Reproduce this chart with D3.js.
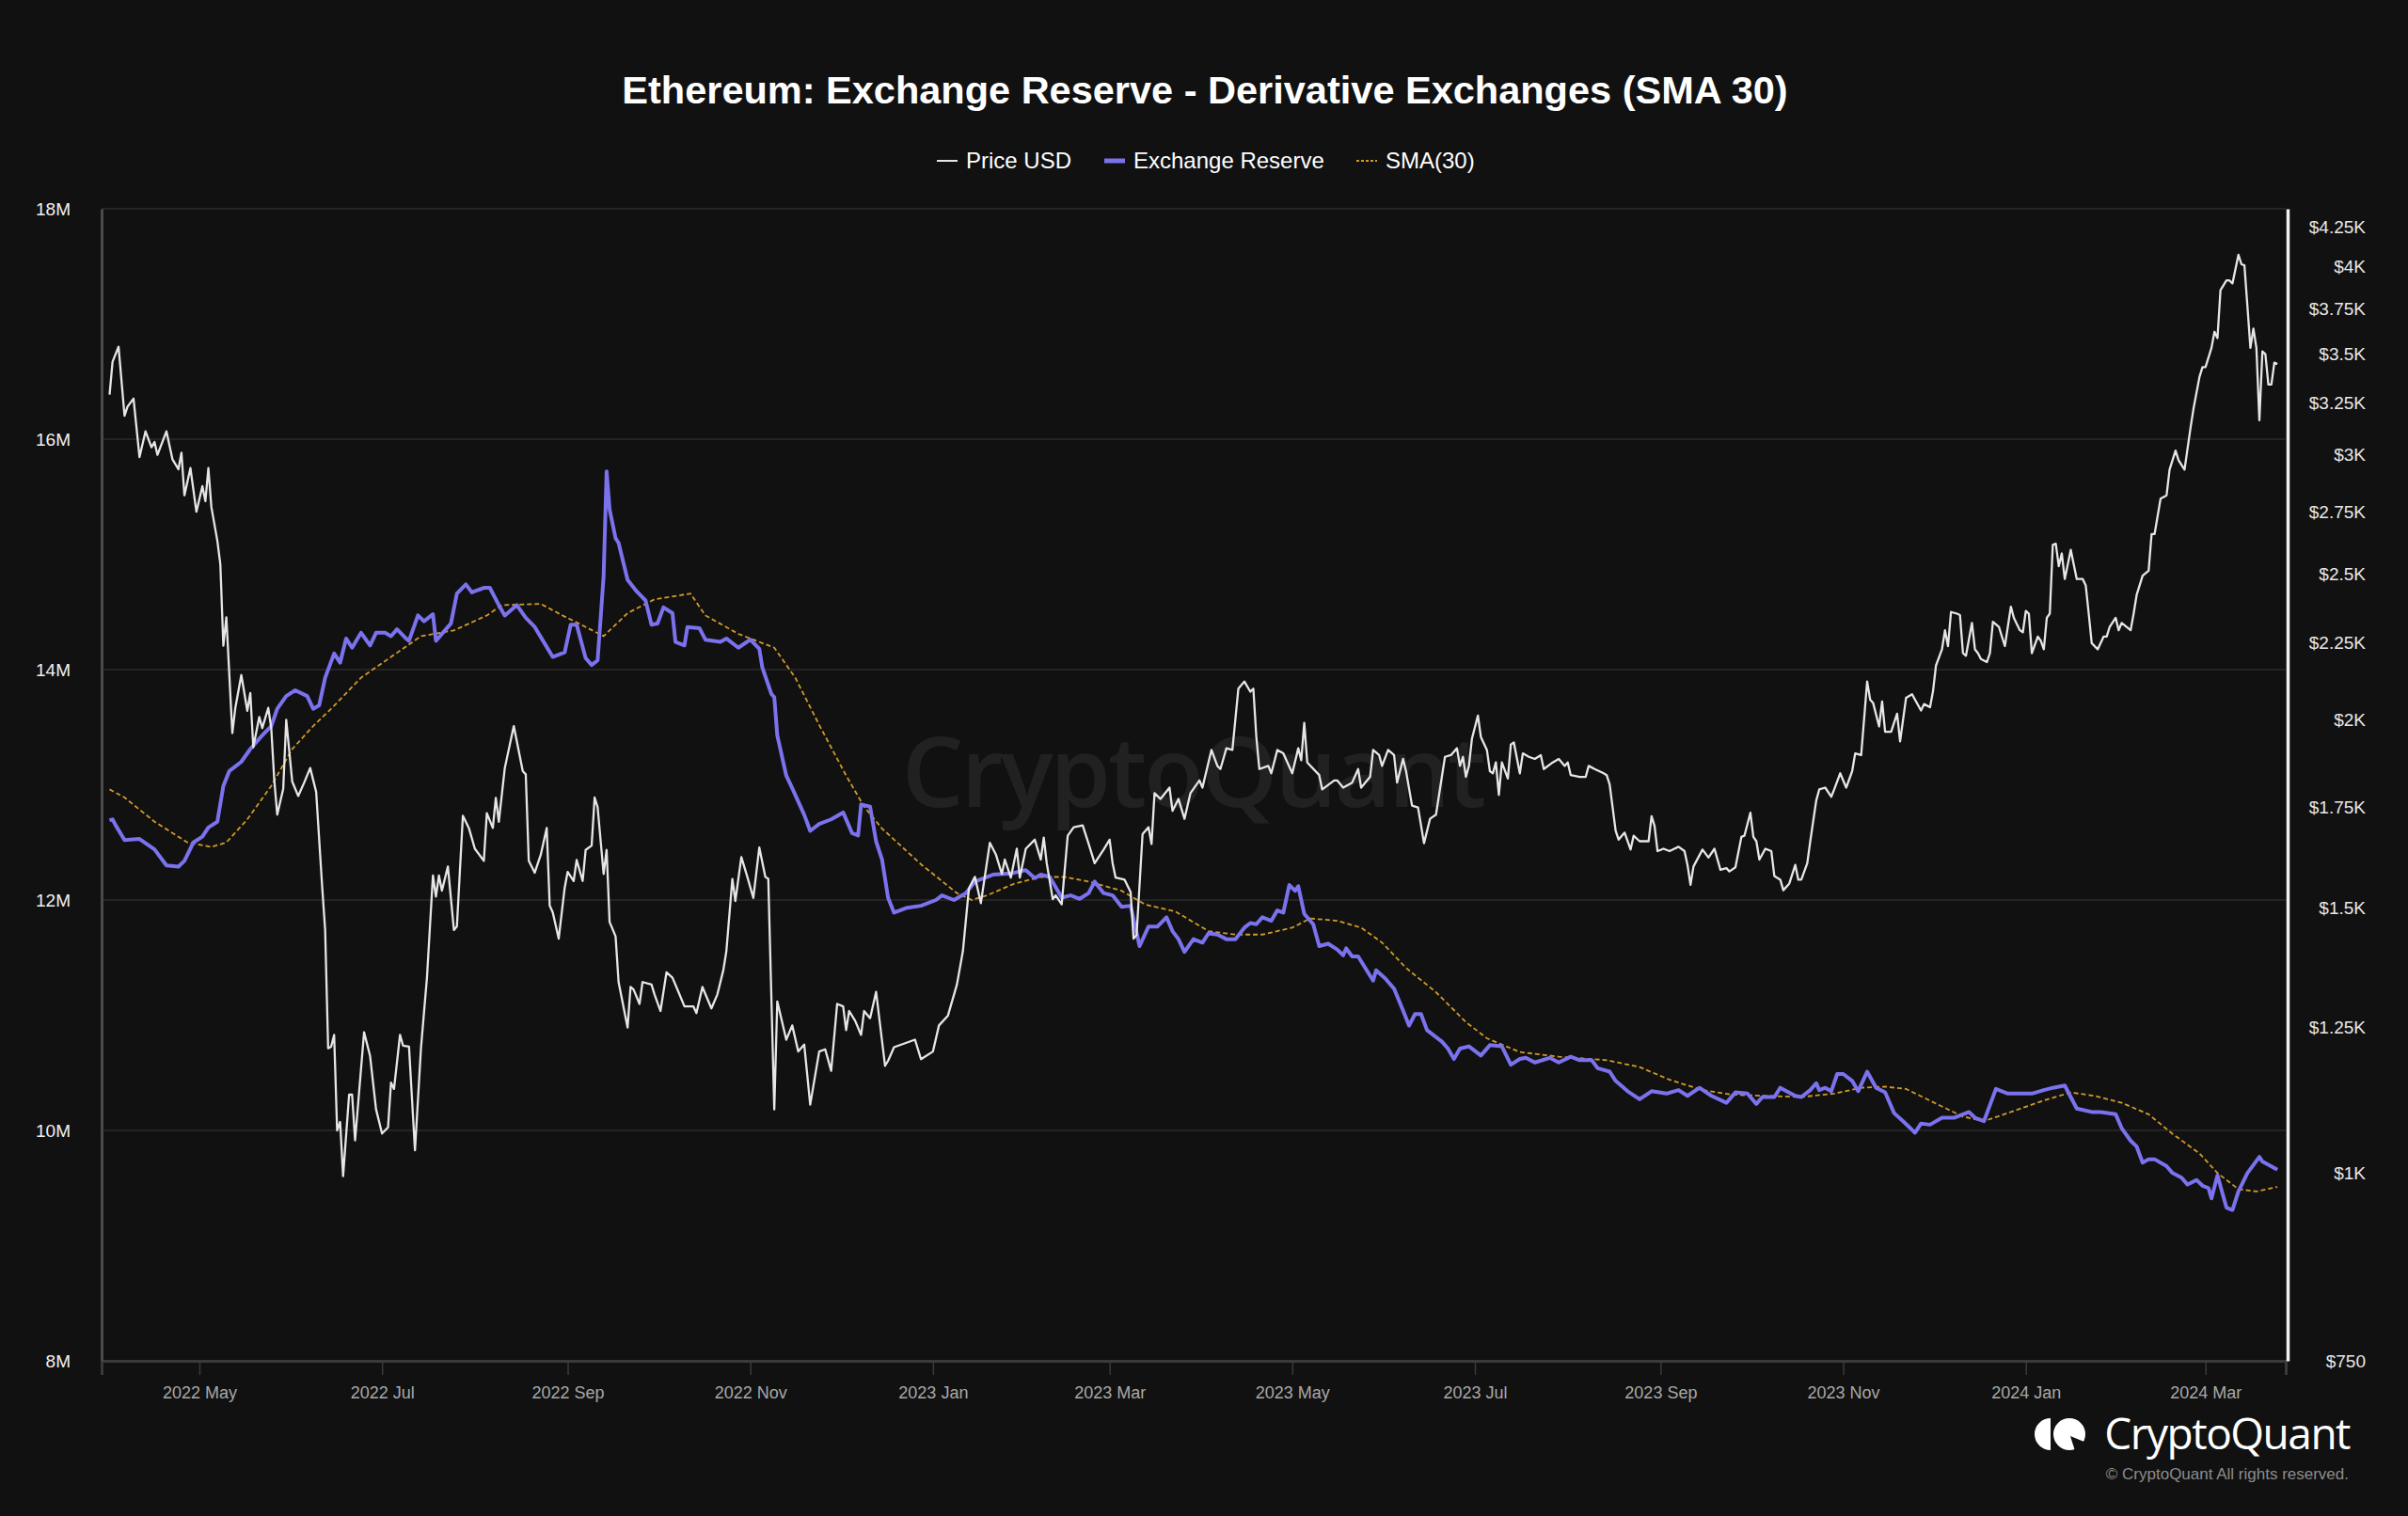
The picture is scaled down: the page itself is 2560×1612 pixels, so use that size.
<!DOCTYPE html>
<html>
<head>
<meta charset="utf-8">
<script src="https://cdn.jsdelivr.net/npm/d3@7"></script>
<style>
  html, body { margin: 0; padding: 0; background: #111111; }
  svg { display: block; }
</style>
</head>
<body>
<div id="chart"></div>
<script>
// ETH price, USD
var priceData = [
  ["2022-04-01",3290],["2022-04-02",3460],["2022-04-04",3540],["2022-04-06",3185],["2022-04-07",3230],["2022-04-09",3270],
  ["2022-04-11",2990],["2022-04-13",3110],["2022-04-15",3035],["2022-04-16",3060],["2022-04-17",3000],["2022-04-20",3110],
  ["2022-04-22",2980],["2022-04-24",2935],["2022-04-25",3010],["2022-04-26",2820],["2022-04-28",2940],["2022-04-30",2750],
  ["2022-05-02",2860],["2022-05-03",2795],["2022-05-04",2940],["2022-05-05",2770],["2022-05-07",2630],["2022-05-08",2537],
  ["2022-05-09",2240],["2022-05-10",2340],["2022-05-12",1960],["2022-05-13",2037],["2022-05-15",2142],["2022-05-17",2028],
  ["2022-05-18",2084],["2022-05-19",1918],["2022-05-21",2009],["2022-05-22",1975],["2022-05-24",2037],["2022-05-25",1975],
  ["2022-05-26",1825],["2022-05-27",1730],["2022-05-29",1800],["2022-05-30",2000],["2022-06-01",1820],["2022-06-03",1780],
  ["2022-06-05",1817],["2022-06-07",1858],["2022-06-09",1791],["2022-06-11",1550],["2022-06-12",1450],["2022-06-13",1210],
  ["2022-06-14",1213],["2022-06-15",1235],["2022-06-16",1067],["2022-06-17",1081],["2022-06-18",995],["2022-06-20",1127],
  ["2022-06-21",1127],["2022-06-22",1051],["2022-06-25",1240],["2022-06-27",1196],["2022-06-29",1102],["2022-07-01",1062],
  ["2022-07-03",1072],["2022-07-04",1148],["2022-07-05",1137],["2022-07-07",1235],["2022-07-08",1215],["2022-07-10",1213],
  ["2022-07-12",1035],["2022-07-14",1210],["2022-07-16",1348],["2022-07-18",1576],["2022-07-19",1526],["2022-07-20",1576],
  ["2022-07-21",1540],["2022-07-23",1598],["2022-07-25",1450],["2022-07-26",1458],["2022-07-28",1727],["2022-07-30",1695],
  ["2022-08-01",1642],["2022-08-04",1612],["2022-08-05",1734],["2022-08-07",1695],["2022-08-08",1775],["2022-08-09",1711],
  ["2022-08-11",1858],["2022-08-14",1981],["2022-08-16",1892],["2022-08-17",1849],["2022-08-18",1840],["2022-08-19",1612],
  ["2022-08-21",1583],["2022-08-23",1627],["2022-08-25",1695],["2022-08-26",1505],["2022-08-27",1490],["2022-08-29",1431],
  ["2022-08-31",1547],["2022-09-01",1585],["2022-09-03",1563],["2022-09-04",1614],["2022-09-06",1563],["2022-09-07",1639],
  ["2022-09-09",1650],["2022-09-10",1776],["2022-09-11",1750],["2022-09-13",1580],["2022-09-14",1639],["2022-09-15",1468],
  ["2022-09-17",1436],["2022-09-18",1339],["2022-09-21",1249],["2022-09-22",1329],["2022-09-23",1324],["2022-09-25",1295],
  ["2022-09-26",1339],["2022-09-29",1334],["2022-09-30",1314],["2022-10-02",1281],["2022-10-04",1359],["2022-10-06",1348],
  ["2022-10-08",1319],["2022-10-10",1290],["2022-10-13",1290],["2022-10-14",1277],["2022-10-16",1329],["2022-10-19",1286],
  ["2022-10-21",1314],["2022-10-23",1364],["2022-10-24",1404],["2022-10-26",1568],["2022-10-27",1516],["2022-10-29",1621],
  ["2022-10-31",1573],["2022-11-02",1523],["2022-11-04",1645],["2022-11-06",1573],["2022-11-07",1568],["2022-11-09",1102],
  ["2022-11-10",1300],["2022-11-13",1226],["2022-11-15",1253],["2022-11-17",1204],["2022-11-19",1217],["2022-11-21",1110],
  ["2022-11-24",1204],["2022-11-26",1208],["2022-11-28",1169],["2022-11-30",1295],["2022-12-02",1290],["2022-12-03",1244],
  ["2022-12-04",1281],["2022-12-06",1262],["2022-12-08",1235],["2022-12-09",1281],["2022-12-11",1267],["2022-12-13",1319],
  ["2022-12-16",1178],["2022-12-17",1187],["2022-12-19",1212],["2022-12-26",1226],["2022-12-28",1190],["2023-01-01",1204],
  ["2023-01-03",1253],["2023-01-06",1272],["2023-01-09",1334],["2023-01-11",1404],["2023-01-13",1545],["2023-01-15",1573],
  ["2023-01-17",1511],["2023-01-20",1657],["2023-01-22",1628],["2023-01-24",1580],["2023-01-25",1615],["2023-01-27",1571],
  ["2023-01-29",1642],["2023-01-30",1571],["2023-02-01",1642],["2023-02-04",1665],["2023-02-06",1615],["2023-02-07",1670],
  ["2023-02-08",1606],["2023-02-10",1520],["2023-02-11",1529],["2023-02-13",1508],["2023-02-15",1675],["2023-02-17",1697],
  ["2023-02-20",1702],["2023-02-22",1654],["2023-02-24",1606],["2023-02-27",1640],["2023-03-01",1665],["2023-03-02",1606],
  ["2023-03-03",1571],["2023-03-06",1566],["2023-03-08",1537],["2023-03-09",1431],["2023-03-10",1439],["2023-03-12",1679],
  ["2023-03-14",1697],["2023-03-15",1654],["2023-03-16",1788],["2023-03-18",1772],["2023-03-21",1803],["2023-03-22",1740],
  ["2023-03-24",1772],["2023-03-26",1719],["2023-03-28",1788],["2023-03-31",1823],["2023-04-01",1803],["2023-04-04",1910],
  ["2023-04-06",1864],["2023-04-07",1855],["2023-04-09",1915],["2023-04-11",1910],["2023-04-13",2098],["2023-04-15",2121],
  ["2023-04-17",2088],["2023-04-18",2098],["2023-04-19",1948],["2023-04-20",1855],["2023-04-23",1864],["2023-04-24",1843],
  ["2023-04-26",1910],["2023-04-28",1900],["2023-05-01",1843],["2023-05-03",1915],["2023-05-04",1880],["2023-05-05",1991],
  ["2023-05-06",1874],["2023-05-10",1838],["2023-05-11",1798],["2023-05-15",1823],["2023-05-16",1823],["2023-05-18",1803],
  ["2023-05-21",1817],["2023-05-23",1855],["2023-05-24",1803],["2023-05-27",1833],["2023-05-28",1910],["2023-05-30",1895],
  ["2023-05-31",1864],["2023-06-02",1910],["2023-06-04",1895],["2023-06-05",1817],["2023-06-07",1884],["2023-06-08",1849],
  ["2023-06-10",1754],["2023-06-12",1749],["2023-06-14",1656],["2023-06-16",1719],["2023-06-18",1730],["2023-06-21",1890],
  ["2023-06-23",1895],["2023-06-25",1915],["2023-06-26",1864],["2023-06-27",1890],["2023-06-28",1833],["2023-06-29",1864],
  ["2023-06-30",1943],["2023-07-02",2013],["2023-07-03",1948],["2023-07-05",1910],["2023-07-06",1849],["2023-07-07",1843],
  ["2023-07-08",1874],["2023-07-09",1783],["2023-07-10",1874],["2023-07-12",1828],["2023-07-13",1926],["2023-07-14",1932],
  ["2023-07-16",1843],["2023-07-17",1900],["2023-07-19",1890],["2023-07-21",1884],["2023-07-23",1895],["2023-07-24",1855],
  ["2023-07-27",1874],["2023-07-29",1884],["2023-07-31",1864],["2023-08-01",1874],["2023-08-02",1838],["2023-08-05",1833],
  ["2023-08-07",1833],["2023-08-08",1864],["2023-08-10",1855],["2023-08-13",1843],["2023-08-14",1838],["2023-08-15",1812],
  ["2023-08-17",1688],["2023-08-18",1665],["2023-08-20",1683],["2023-08-22",1640],["2023-08-23",1675],["2023-08-25",1661],
  ["2023-08-28",1661],["2023-08-29",1726],["2023-08-30",1700],["2023-08-31",1636],["2023-09-02",1642],["2023-09-04",1636],
  ["2023-09-07",1647],["2023-09-09",1636],["2023-09-10",1602],["2023-09-11",1554],["2023-09-12",1598],["2023-09-15",1640],
  ["2023-09-17",1620],["2023-09-19",1642],["2023-09-21",1590],["2023-09-23",1594],["2023-09-24",1586],["2023-09-26",1596],
  ["2023-09-28",1672],["2023-09-29",1675],["2023-10-01",1735],["2023-10-02",1672],["2023-10-03",1661],["2023-10-04",1615],
  ["2023-10-06",1642],["2023-10-08",1636],["2023-10-09",1575],["2023-10-11",1566],["2023-10-12",1541],["2023-10-14",1557],
  ["2023-10-16",1602],["2023-10-17",1566],["2023-10-18",1566],["2023-10-20",1606],["2023-10-21",1661],["2023-10-23",1768],
  ["2023-10-24",1798],["2023-10-26",1803],["2023-10-28",1778],["2023-10-29",1798],["2023-10-31",1843],["2023-11-02",1803],
  ["2023-11-04",1849],["2023-11-05",1900],["2023-11-07",1895],["2023-11-09",2121],["2023-11-10",2063],["2023-11-11",2052],
  ["2023-11-13",1980],["2023-11-14",2057],["2023-11-15",1964],["2023-11-17",1964],["2023-11-19",2019],["2023-11-20",1935],
  ["2023-11-22",2069],["2023-11-24",2080],["2023-11-27",2029],["2023-11-28",2049],["2023-11-30",2039],["2023-12-01",2090],
  ["2023-12-02",2174],["2023-12-04",2228],["2023-12-05",2294],["2023-12-06",2239],["2023-12-07",2359],["2023-12-09",2353],
  ["2023-12-10",2348],["2023-12-11",2215],["2023-12-12",2206],["2023-12-14",2320],["2023-12-15",2228],["2023-12-16",2215],
  ["2023-12-17",2195],["2023-12-19",2185],["2023-12-20",2215],["2023-12-21",2324],["2023-12-23",2306],["2023-12-24",2272],
  ["2023-12-25",2239],["2023-12-27",2378],["2023-12-28",2338],["2023-12-30",2294],["2023-12-31",2287],["2024-01-01",2363],
  ["2024-01-02",2353],["2024-01-03",2215],["2024-01-05",2272],["2024-01-06",2257],["2024-01-07",2228],["2024-01-08",2338],
  ["2024-01-09",2353],["2024-01-10",2614],["2024-01-11",2619],["2024-01-12",2530],["2024-01-13",2580],["2024-01-14",2481],
  ["2024-01-16",2594],["2024-01-18",2481],["2024-01-20",2481],["2024-01-21",2457],["2024-01-22",2353],["2024-01-23",2249],
  ["2024-01-25",2228],["2024-01-27",2272],["2024-01-28",2272],["2024-01-29",2306],["2024-01-31",2338],["2024-02-01",2294],
  ["2024-02-02",2320],["2024-02-05",2294],["2024-02-06",2353],["2024-02-07",2421],["2024-02-09",2494],["2024-02-11",2513],
  ["2024-02-12",2658],["2024-02-13",2658],["2024-02-15",2806],["2024-02-17",2820],["2024-02-18",2933],["2024-02-20",3020],
  ["2024-02-21",2976],["2024-02-23",2933],["2024-02-25",3127],["2024-02-26",3220],["2024-02-28",3381],["2024-02-29",3431],
  ["2024-03-01",3431],["2024-03-03",3534],["2024-03-04",3622],["2024-03-05",3587],["2024-03-06",3860],["2024-03-08",3918],
  ["2024-03-09",3918],["2024-03-10",3900],["2024-03-12",4075],["2024-03-13",4016],["2024-03-14",4010],["2024-03-15",3767],
  ["2024-03-16",3534],["2024-03-17",3640],["2024-03-18",3534],["2024-03-19",3163],["2024-03-20",3515],["2024-03-21",3500],
  ["2024-03-22",3341],["2024-03-23",3341],["2024-03-24",3455],["2024-03-25",3448]
];

// Exchange reserve, millions of ETH
var reserveData = [
  ["2022-04-01",12.69],["2022-04-02",12.70],["2022-04-03",12.65],["2022-04-06",12.52],["2022-04-11",12.53],["2022-04-16",12.44],
  ["2022-04-20",12.30],["2022-04-24",12.29],["2022-04-26",12.34],["2022-04-29",12.50],["2022-05-02",12.55],["2022-05-04",12.63],
  ["2022-05-07",12.68],["2022-05-09",12.99],["2022-05-11",13.12],["2022-05-15",13.20],["2022-05-18",13.31],["2022-05-22",13.43],
  ["2022-05-25",13.51],["2022-05-27",13.66],["2022-05-30",13.77],["2022-06-02",13.82],["2022-06-06",13.77],["2022-06-08",13.66],
  ["2022-06-10",13.69],["2022-06-12",13.93],["2022-06-15",14.14],["2022-06-17",14.06],["2022-06-19",14.27],["2022-06-21",14.19],
  ["2022-06-24",14.32],["2022-06-27",14.21],["2022-06-29",14.32],["2022-07-02",14.32],["2022-07-04",14.29],["2022-07-06",14.35],
  ["2022-07-09",14.27],["2022-07-10",14.25],["2022-07-13",14.47],["2022-07-15",14.42],["2022-07-18",14.48],["2022-07-19",14.25],
  ["2022-07-23",14.37],["2022-07-24",14.40],["2022-07-26",14.66],["2022-07-29",14.74],["2022-07-31",14.67],["2022-08-04",14.71],
  ["2022-08-06",14.71],["2022-08-09",14.56],["2022-08-11",14.47],["2022-08-15",14.56],["2022-08-18",14.45],["2022-08-21",14.37],
  ["2022-08-24",14.24],["2022-08-27",14.11],["2022-08-31",14.15],["2022-09-02",14.39],["2022-09-04",14.39],["2022-09-07",14.10],
  ["2022-09-09",14.04],["2022-09-11",14.08],["2022-09-13",14.81],["2022-09-14",15.72],["2022-09-15",15.39],["2022-09-17",15.14],
  ["2022-09-18",15.10],["2022-09-21",14.78],["2022-09-24",14.68],["2022-09-27",14.60],["2022-09-29",14.39],["2022-10-01",14.40],
  ["2022-10-03",14.54],["2022-10-06",14.49],["2022-10-07",14.24],["2022-10-10",14.21],["2022-10-11",14.37],["2022-10-15",14.36],
  ["2022-10-17",14.26],["2022-10-22",14.24],["2022-10-24",14.27],["2022-10-28",14.19],["2022-11-01",14.26],["2022-11-04",14.18],
  ["2022-11-05",14.02],["2022-11-08",13.79],["2022-11-09",13.76],["2022-11-10",13.43],["2022-11-13",13.08],["2022-11-15",12.97],
  ["2022-11-19",12.74],["2022-11-21",12.60],["2022-11-24",12.66],["2022-11-28",12.70],["2022-12-02",12.76],["2022-12-05",12.58],
  ["2022-12-07",12.56],["2022-12-08",12.83],["2022-12-11",12.81],["2022-12-13",12.51],["2022-12-15",12.35],["2022-12-17",12.02],
  ["2022-12-19",11.89],["2022-12-23",11.93],["2022-12-28",11.95],["2023-01-02",12.00],["2023-01-04",12.04],["2023-01-08",12.00],
  ["2023-01-12",12.06],["2023-01-15",12.16],["2023-01-21",12.22],["2023-01-27",12.23],["2023-02-01",12.26],["2023-02-04",12.19],
  ["2023-02-06",12.22],["2023-02-09",12.20],["2023-02-13",12.02],["2023-02-16",12.04],["2023-02-19",12.01],["2023-02-22",12.06],
  ["2023-02-24",12.16],["2023-02-27",12.06],["2023-03-02",12.04],["2023-03-05",11.94],["2023-03-08",11.95],["2023-03-11",11.60],
  ["2023-03-14",11.77],["2023-03-17",11.77],["2023-03-20",11.85],["2023-03-22",11.73],["2023-03-24",11.66],["2023-03-26",11.55],
  ["2023-03-29",11.66],["2023-04-01",11.63],["2023-04-03",11.71],["2023-04-06",11.70],["2023-04-09",11.66],["2023-04-12",11.66],
  ["2023-04-15",11.76],["2023-04-17",11.80],["2023-04-19",11.79],["2023-04-21",11.85],["2023-04-24",11.82],["2023-04-26",11.91],
  ["2023-04-28",11.89],["2023-04-30",12.13],["2023-05-02",12.08],["2023-05-03",12.12],["2023-05-05",11.88],["2023-05-08",11.79],
  ["2023-05-10",11.60],["2023-05-13",11.62],["2023-05-16",11.57],["2023-05-18",11.52],["2023-05-19",11.58],["2023-05-21",11.51],
  ["2023-05-23",11.51],["2023-05-28",11.30],["2023-05-29",11.39],["2023-06-01",11.32],["2023-06-04",11.23],["2023-06-07",11.04],
  ["2023-06-09",10.91],["2023-06-11",11.01],["2023-06-13",11.01],["2023-06-15",10.87],["2023-06-20",10.77],["2023-06-22",10.71],
  ["2023-06-24",10.62],["2023-06-26",10.71],["2023-06-29",10.73],["2023-07-03",10.65],["2023-07-06",10.74],["2023-07-10",10.73],
  ["2023-07-13",10.57],["2023-07-16",10.62],["2023-07-18",10.63],["2023-07-21",10.59],["2023-07-26",10.63],["2023-07-29",10.59],
  ["2023-08-02",10.64],["2023-08-05",10.61],["2023-08-09",10.61],["2023-08-11",10.54],["2023-08-15",10.51],["2023-08-17",10.43],
  ["2023-08-21",10.34],["2023-08-25",10.27],["2023-08-29",10.34],["2023-09-03",10.32],["2023-09-07",10.35],["2023-09-10",10.30],
  ["2023-09-14",10.37],["2023-09-18",10.30],["2023-09-23",10.24],["2023-09-26",10.33],["2023-09-30",10.32],["2023-10-03",10.23],
  ["2023-10-05",10.29],["2023-10-09",10.29],["2023-10-11",10.37],["2023-10-16",10.30],["2023-10-18",10.29],["2023-10-21",10.35],
  ["2023-10-23",10.41],["2023-10-24",10.35],["2023-10-26",10.37],["2023-10-28",10.34],["2023-10-30",10.49],["2023-11-01",10.49],
  ["2023-11-04",10.43],["2023-11-06",10.34],["2023-11-09",10.51],["2023-11-12",10.37],["2023-11-15",10.33],["2023-11-18",10.15],
  ["2023-11-21",10.08],["2023-11-25",9.98],["2023-11-27",10.06],["2023-11-30",10.05],["2023-12-04",10.11],["2023-12-08",10.11],
  ["2023-12-13",10.16],["2023-12-15",10.11],["2023-12-18",10.08],["2023-12-22",10.36],["2023-12-26",10.32],["2023-12-30",10.32],
  ["2024-01-03",10.32],["2024-01-07",10.35],["2024-01-10",10.37],["2024-01-14",10.39],["2024-01-18",10.19],["2024-01-23",10.16],
  ["2024-01-26",10.16],["2024-01-31",10.14],["2024-02-02",10.02],["2024-02-05",9.91],["2024-02-07",9.86],["2024-02-09",9.72],
  ["2024-02-11",9.75],["2024-02-13",9.75],["2024-02-17",9.69],["2024-02-19",9.63],["2024-02-22",9.59],["2024-02-24",9.53],
  ["2024-02-27",9.57],["2024-02-29",9.52],["2024-03-02",9.50],["2024-03-03",9.41],["2024-03-05",9.61],["2024-03-08",9.33],
  ["2024-03-10",9.31],["2024-03-12",9.47],["2024-03-15",9.63],["2024-03-19",9.77],["2024-03-20",9.73],["2024-03-25",9.66]
];

// SMA(30) of the reserve, millions of ETH
var smaData = [
  ["2022-04-01",12.96],["2022-04-06",12.89],["2022-04-16",12.68],["2022-04-27",12.50],["2022-05-05",12.46],["2022-05-10",12.50],
  ["2022-05-17",12.70],["2022-05-25",12.99],["2022-06-01",13.31],["2022-06-08",13.51],["2022-06-14",13.66],["2022-06-24",13.93],
  ["2022-07-04",14.11],["2022-07-14",14.29],["2022-07-25",14.34],["2022-08-05",14.47],["2022-08-10",14.56],["2022-08-23",14.57],
  ["2022-08-31",14.46],["2022-09-04",14.41],["2022-09-13",14.29],["2022-09-21",14.49],["2022-09-30",14.61],["2022-10-12",14.66],
  ["2022-10-17",14.47],["2022-10-28",14.31],["2022-11-09",14.19],["2022-11-16",13.93],["2022-11-24",13.52],["2022-12-03",13.08],
  ["2022-12-09",12.81],["2022-12-15",12.62],["2022-12-28",12.31],["2023-01-09",12.06],["2023-01-14",12.00],["2023-01-19",12.04],
  ["2023-01-28",12.14],["2023-02-06",12.20],["2023-02-14",12.20],["2023-02-22",12.16],["2023-03-05",12.08],["2023-03-13",11.96],
  ["2023-03-23",11.90],["2023-04-03",11.73],["2023-04-12",11.70],["2023-04-21",11.70],["2023-05-01",11.76],["2023-05-07",11.84],
  ["2023-05-16",11.82],["2023-05-24",11.76],["2023-05-31",11.63],["2023-06-08",11.41],["2023-06-18",11.20],["2023-06-28",10.94],
  ["2023-07-05",10.80],["2023-07-16",10.68],["2023-07-29",10.64],["2023-08-14",10.61],["2023-08-25",10.55],["2023-09-04",10.44],
  ["2023-09-15",10.35],["2023-09-25",10.31],["2023-10-06",10.30],["2023-10-18",10.29],["2023-10-29",10.32],["2023-11-07",10.37],
  ["2023-11-15",10.38],["2023-11-22",10.36],["2023-12-03",10.22],["2023-12-11",10.12],["2023-12-18",10.08],["2023-12-27",10.16],
  ["2024-01-07",10.26],["2024-01-16",10.33],["2024-01-24",10.30],["2024-02-02",10.24],["2024-02-11",10.14],["2024-02-19",9.97],
  ["2024-02-28",9.80],["2024-03-05",9.63],["2024-03-12",9.49],["2024-03-18",9.47],["2024-03-25",9.51]
];

var reserveTicks = [8, 10, 12, 14, 16, 18];
var priceTicks = [750, 1000, 1250, 1500, 1750, 2000, 2250, 2500, 2750, 3000, 3250, 3500, 3750, 4000, 4250];
var priceTickLabels = ["$750", "$1K", "$1.25K", "$1.5K", "$1.75K", "$2K", "$2.25K", "$2.5K", "$2.75K", "$3K",
  "$3.25K", "$3.5K", "$3.75K", "$4K", "$4.25K"];
var legendItems = ["Price USD", "Exchange Reserve", "SMA(30)"];

var W = 2560, H = 1612;
var plotL = 108, plotR = 2430, plotT = 222, plotB = 1447;
var font = "'Liberation Sans', Arial, Helvetica, sans-serif";
var priceColor = '#e6e6e6', reserveColor = '#7b72ee', smaColor = '#d09a2a';

var parse = d3.utcParse('%Y-%m-%d');

var x = d3.scaleUtc()
  .domain([new Date(Date.UTC(2022, 2, 29, 8)), new Date(Date.UTC(2024, 2, 27, 19))])
  .range([plotL, plotR]);
var yR = d3.scaleLinear().domain([8, 18]).range([plotB, plotT]);
var yP = d3.scaleLog().domain([750, 750 * Math.pow(10, (plotB - plotT) / 1600)]).range([plotB, plotT]);

var svg = d3.select('#chart').append('svg')
  .attr('width', W)
  .attr('height', H)
  .style('background', '#111111');

// title
svg.append('text')
  .attr('x', 1281)
  .attr('y', 110)
  .attr('text-anchor', 'middle')
  .style('font-family', font)
  .style('font-weight', 'bold')
  .style('font-size', '41.5px')
  .style('fill', '#ffffff')
  .text('Ethereum: Exchange Reserve - Derivative Exchanges (SMA 30)');

// legend
var legendX = [996, 1174, 1442];
var legend = svg.append('g');
legendItems.forEach(function(name, i) {
  var g = legend.append('g').attr('transform', 'translate(' + legendX[i] + ',171)');
  var ln = g.append('line').attr('x1', 0).attr('x2', 22).attr('y1', 0).attr('y2', 0);
  if (i === 0) ln.style('stroke', priceColor).style('stroke-width', 2);
  if (i === 1) ln.style('stroke', reserveColor).style('stroke-width', 5);
  if (i === 2) ln.style('stroke', smaColor).style('stroke-width', 2).style('stroke-dasharray', '3,2');
  g.append('text')
    .attr('x', 31)
    .attr('y', 8)
    .style('font-family', font)
    .style('font-size', '24px')
    .style('fill', '#ffffff')
    .text(name);
});

// grid
svg.append('g').selectAll('line').data(reserveTicks).enter().append('line')
  .attr('x1', plotL).attr('x2', plotR)
  .attr('y1', function(d) { return yR(d); })
  .attr('y2', function(d) { return yR(d); })
  .style('stroke', '#242424')
  .style('stroke-width', 2);

// watermark
svg.append('text')
  .attr('x', 1268)
  .attr('y', 858)
  .attr('text-anchor', 'middle')
  .style('font-family', "'Open Sans', sans-serif")
  .style('font-weight', 600)
  .style('font-size', '104px')
  .style('letter-spacing', '-3px')
  .style('fill', '#ffffff')
  .style('fill-opacity', 0.07)
  .text('CryptoQuant');

// lines
svg.append('clipPath').attr('id', 'plot')
  .append('rect').attr('x', plotL).attr('y', plotT - 5).attr('width', plotR - plotL).attr('height', plotB - plotT + 5);

var plot = svg.append('g').attr('clip-path', 'url(#plot)');

var lineR = d3.line()
  .x(function(d) { return x(parse(d[0])); })
  .y(function(d) { return yR(d[1]); });
var lineP = d3.line()
  .x(function(d) { return x(parse(d[0])); })
  .y(function(d) { return yP(d[1]); });

plot.append('path').datum(smaData)
  .attr('d', lineR)
  .style('fill', 'none')
  .style('stroke', smaColor)
  .style('stroke-width', 1.8)
  .style('stroke-dasharray', '5,3');

plot.append('path').datum(reserveData)
  .attr('d', lineR)
  .style('fill', 'none')
  .style('stroke', reserveColor)
  .style('stroke-width', 4)
  .style('stroke-linejoin', 'round');

plot.append('path').datum(priceData)
  .attr('d', lineP)
  .style('fill', 'none')
  .style('stroke', priceColor)
  .style('stroke-width', 2.3)
  .style('stroke-linejoin', 'round');

// axes
var xAxis = d3.axisBottom(x)
  .tickValues(d3.utcMonth.every(2).range(new Date(Date.UTC(2022, 4, 1)), new Date(Date.UTC(2024, 3, 1))))
  .tickFormat(d3.utcFormat('%Y %b'))
  .tickSize(15)
  .tickPadding(12);
var gx = svg.append('g').attr('transform', 'translate(0,' + plotB + ')').call(xAxis);
gx.select('.domain').style('stroke', '#3a3a3a').style('stroke-width', 3);
gx.selectAll('.tick line').style('stroke', '#3a3a3a').style('stroke-width', 1.5);
gx.selectAll('text').style('font-family', font).style('font-size', '18px').style('fill', '#a8a8a8');

var yAxisL = d3.axisLeft(yR)
  .tickValues(reserveTicks)
  .tickFormat(function(d) { return d + 'M'; })
  .tickSize(0)
  .tickPadding(33);
var gl = svg.append('g').attr('transform', 'translate(' + plotL + ',0)').call(yAxisL);
gl.select('.domain').style('stroke', '#4a4a4a').style('stroke-width', 3);
gl.selectAll('text').style('font-family', font).style('font-size', '19px').style('fill', '#f0f0f0');

var yAxisR = d3.axisRight(yP)
  .tickValues(priceTicks)
  .tickFormat(function(d, i) { return priceTickLabels[i]; })
  .tickSize(0)
  .tickPadding(83);
var gr = svg.append('g').attr('transform', 'translate(' + (plotR + 2) + ',0)').call(yAxisR);
gr.select('.domain').style('stroke', '#f2f2f2').style('stroke-width', 3.5);
gr.selectAll('text')
  .attr('text-anchor', 'end')
  .style('font-family', font)
  .style('font-size', '19px')
  .style('fill', '#e8e8e8');

// brand, bottom right
var brand = svg.append('g');
brand.append('path')
  .attr('d', 'M2180,1508 A17,17 0 0 0 2180,1542 Z')
  .style('fill', '#ffffff');
brand.append('circle').attr('cx', 2200).attr('cy', 1525).attr('r', 17).style('fill', '#ffffff');
brand.append('path')
  .attr('d', 'M2201,1527 L2218,1534 L2218,1546 L2207,1546 Z')
  .style('fill', '#111111');
brand.append('text')
  .attr('x', 2498)
  .attr('y', 1541)
  .attr('text-anchor', 'end')
  .style('font-family', "'Open Sans', sans-serif")
  .style('font-size', '46px')
  .style('letter-spacing', '-1.5px')
  .style('fill', '#ffffff')
  .text('CryptoQuant');
brand.append('text')
  .attr('x', 2497)
  .attr('y', 1573)
  .attr('text-anchor', 'end')
  .style('font-family', font)
  .style('font-size', '17px')
  .style('fill', '#8c8c8c')
  .text('\u00a9 CryptoQuant All rights reserved.');
</script>
</body>
</html>
